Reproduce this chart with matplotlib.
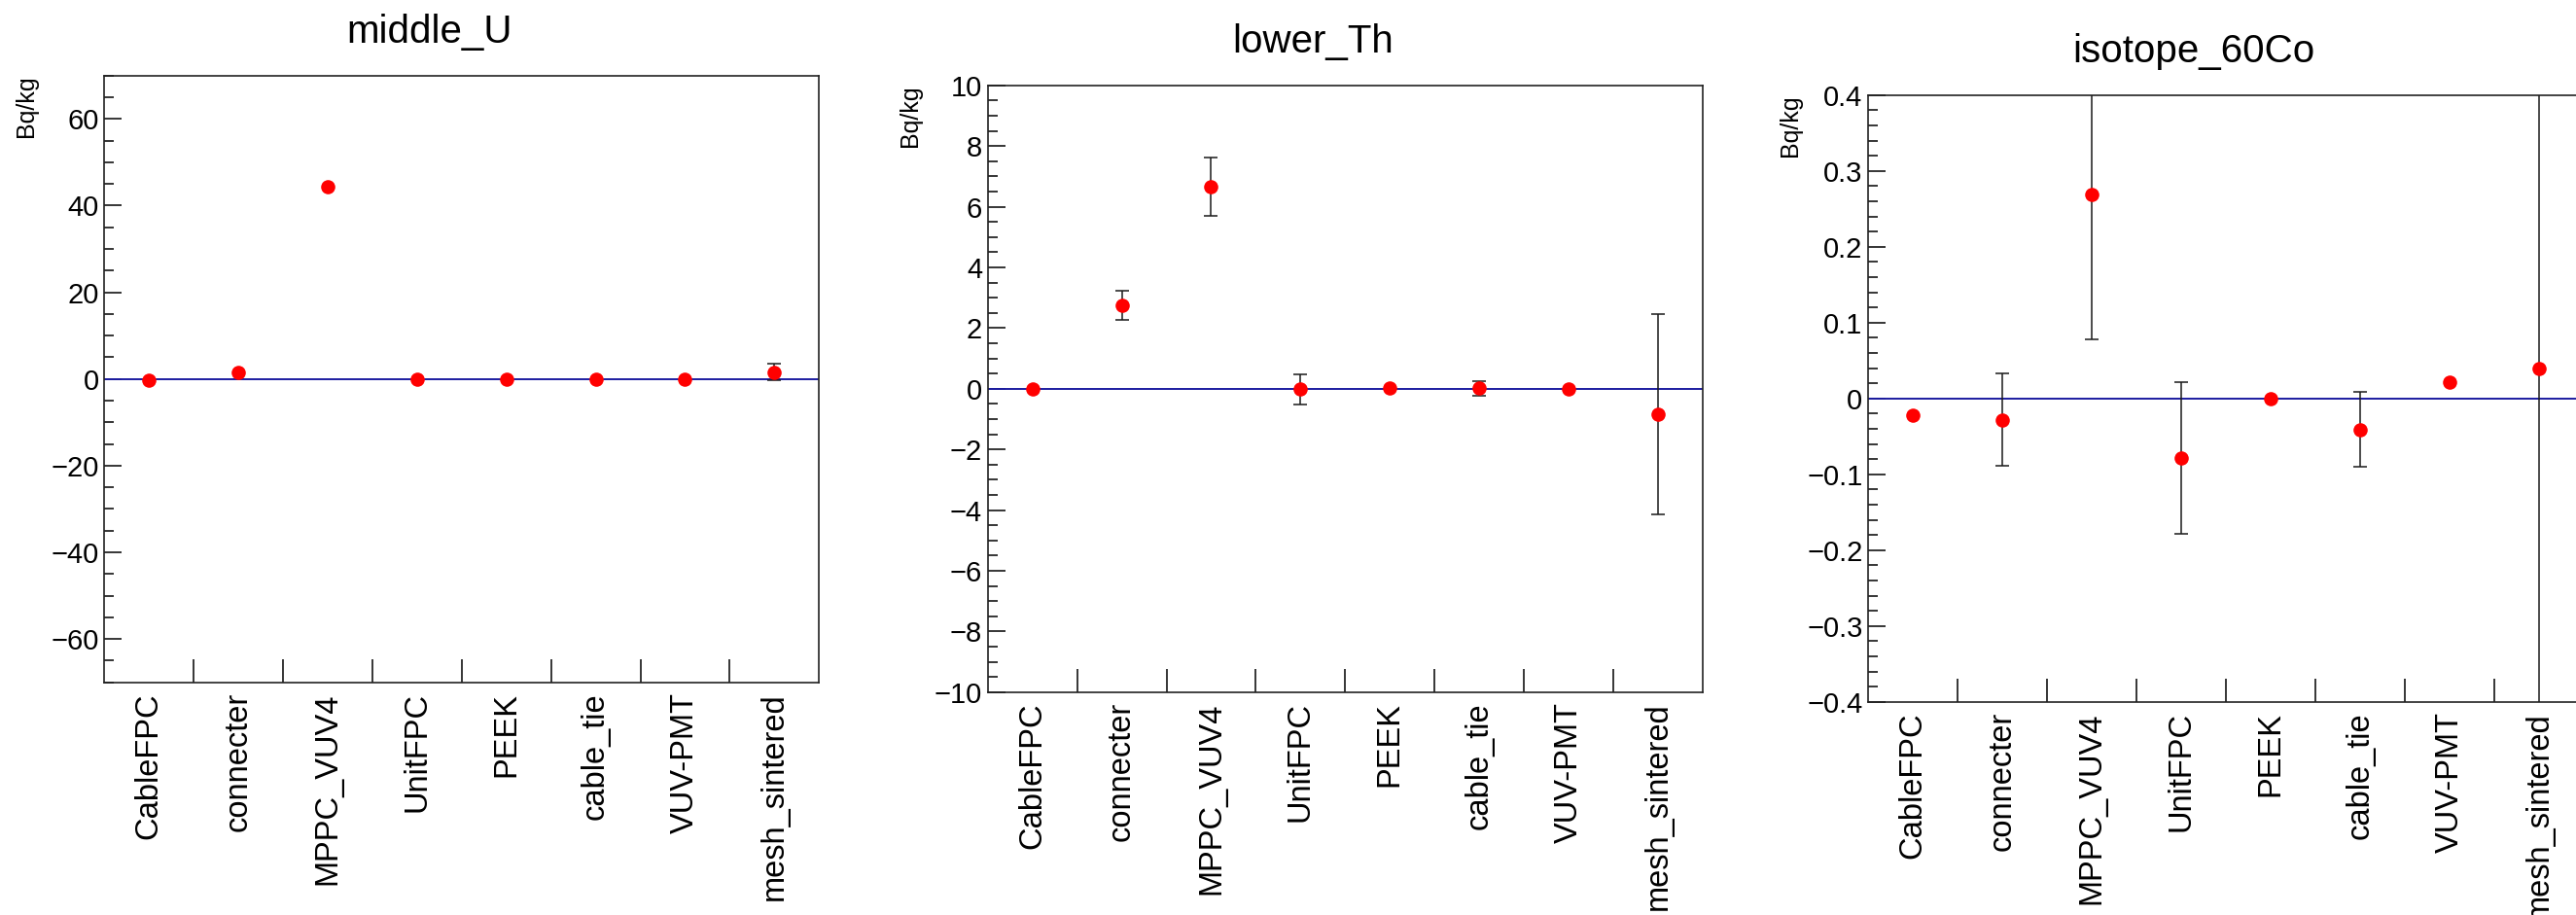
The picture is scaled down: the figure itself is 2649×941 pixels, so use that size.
import numpy as np
import matplotlib
matplotlib.use("Agg")
import matplotlib.pyplot as plt
from matplotlib.ticker import MultipleLocator, FuncFormatter

plt.rcParams['font.family'] = ['Liberation Sans', 'DejaVu Sans']

materials = ['CableFPC', 'connecter', 'MPPC_VUV4', 'UnitFPC', 'PEEK',
             'cable_tie', 'VUV-PMT', 'mesh_sintered']

# middle_U
u_val = [-0.2, 1.5, 44.3, 0.0, 0.0, 0.0, 0.0, 1.6]
u_err = [0.0, 0.0, 0.0, 0.0, 0.0, 0.0, 0.0, 1.9]

# lower_Th
th_val = [-0.02, 2.75, 6.65, -0.02, 0.02, 0.02, -0.02, -0.85]
th_err = [0.0, 0.48, 0.97, 0.50, 0.0, 0.24, 0.0, 3.31]

# isotope_60Co
co_val = [-0.022, -0.028, 0.269, -0.079, 0.0, -0.041, 0.022, 0.039]
co_err = [0.0, 0.061, 0.191, 0.100, 0.0, 0.049, 0.0, 1.2]

titles = ['middle_U', 'lower_Th', 'isotope_60Co']
ylims = [(-70, 70), (-10, 10), (-0.4, 0.4)]
majors = [20, 2, 0.1]
minors = [5, 0.5, 0.02]

W, H = 2649, 941
# axes boxes in pixels: left, top, width, height
boxes = [(107.3, 77.7, 735, 624),
         (1015.7, 87.7, 735.3, 624),
         (1921, 97.7, 736, 624)]


def root_fmt(v, pos):
    s = '%g' % round(v, 6)
    return s.replace('-', '\u2212')


fig = plt.figure(figsize=(W / 100, H / 100), dpi=100)

series = [(u_val, u_err), (th_val, th_err), (co_val, co_err)]
x = np.arange(len(materials)) + 0.5

for i in range(3):
    l, t, w, h = boxes[i]
    ax = fig.add_axes([l / W, 1 - (t + h) / H, w / W, h / H])
    val, err = series[i]
    ax.axhline(0, color='#1c1ca0', lw=1.4, zorder=2)
    has_err = np.array(err) > 0
    ax.errorbar(x[has_err], np.array(val)[has_err], yerr=np.array(err)[has_err],
                fmt='none', ecolor='#1a1a1a', elinewidth=1.1,
                capsize=5, capthick=1.1, zorder=3)
    ax.plot(x, val, 'o', color='red', markersize=10.5, markeredgewidth=0, zorder=4)
    ax.set_xlim(0, len(materials))
    ax.set_ylim(*ylims[i])

    # bin edges as major x ticks, names as minor ticks at bin centres
    ax.set_xticks(np.arange(1, len(materials)))
    ax.set_xticklabels([])
    ax.set_xticks(x, minor=True)
    ax.set_xticklabels(materials, minor=True, rotation=90, fontsize=23.5)
    ax.tick_params(axis='x', which='major', direction='in', length=17.3, width=1.1)
    ax.tick_params(axis='x', which='minor', length=0, pad=7.5)

    ax.yaxis.set_major_locator(MultipleLocator(majors[i]))
    ax.yaxis.set_minor_locator(MultipleLocator(minors[i]))
    ax.yaxis.set_major_formatter(FuncFormatter(root_fmt))
    ax.tick_params(axis='y', which='major', direction='in', length=13.2, width=1.1,
                   labelsize=21, pad=4)
    ax.tick_params(axis='y', which='minor', direction='in', length=7.2, width=1.1)

    for s in ax.spines.values():
        s.set_linewidth(1.2)
        s.set_color('#222222')

    fig.text((l + w / 2 - 33) / W, 1 - (t - 45) / H, titles[i], fontsize=29,
             ha='center', va='center')
    fig.text((l - 80) / W, 1 - t / H, 'Bq/kg', fontsize=18, rotation=90,
             ha='center', va='top')

fig.savefig('out.png', dpi=100)
